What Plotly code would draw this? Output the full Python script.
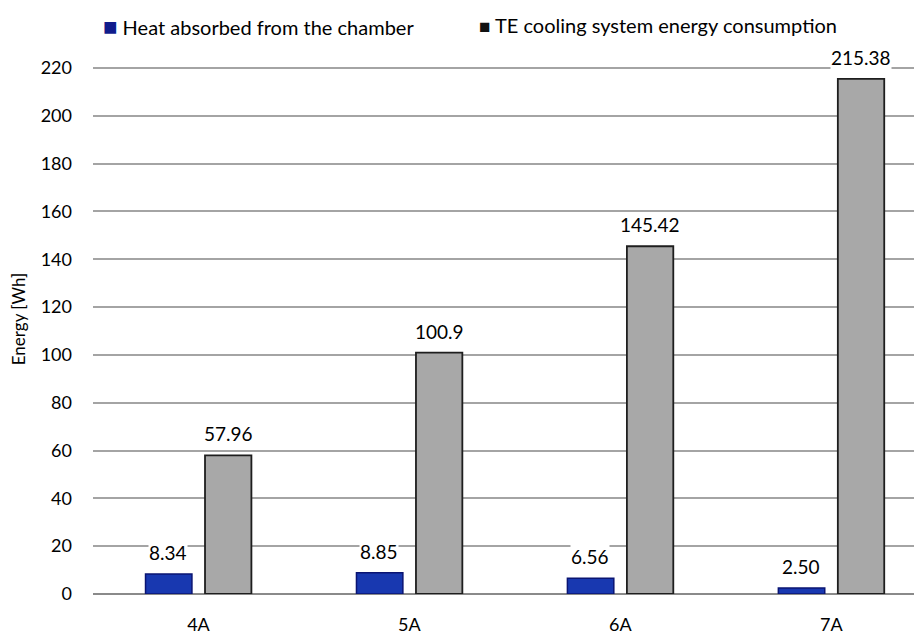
import plotly.graph_objects as go

categories = ["4A", "5A", "6A", "7A"]
heat_absorbed = [8.34, 8.85, 6.56, 2.50]
te_consumption = [57.96, 100.9, 145.42, 215.38]
heat_labels = ["8.34", "8.85", "6.56", "2.50"]
te_labels = ["57.96", "100.9", "145.42", "215.38"]
y_ticks = list(range(0, 221, 20))
series_names = ["Heat absorbed from the chamber", "TE cooling system energy consumption"]
legend_colors = ["#101c8c", "#111111"]

FONT = "Lato, 'Open Sans', sans-serif"

fig = go.Figure()
fig.add_trace(go.Bar(
    x=categories, y=heat_absorbed, name=series_names[0],
    marker=dict(color="#1838b0", line=dict(color="#0a1472", width=1.5)),
    showlegend=False,
))
fig.add_trace(go.Bar(
    x=categories, y=te_consumption, name=series_names[1],
    marker=dict(color="#a8a8a8", line=dict(color="#1e1e1e", width=1.8)),
    showlegend=False,
))

for i, c in enumerate(categories):
    fig.add_annotation(x=c, y=heat_absorbed[i], text=heat_labels[i], xshift=-30,
                       yanchor="bottom", yshift=9, showarrow=False, borderpad=0,
                       font=dict(size=19, color="#000"), bgcolor="white")
    fig.add_annotation(x=c, y=te_consumption[i], text=te_labels[i], xshift=30,
                       yanchor="bottom", yshift=9, showarrow=False, borderpad=0,
                       font=dict(size=19, color="#000"), bgcolor="white")

# legend drawn as text with coloured square glyphs
legend_x = [101, 477]
legend_sq = [24, 19]
for name, col, lx, sq in zip(series_names, legend_colors, legend_x, legend_sq):
    fig.add_annotation(xref="paper", yref="paper", x=(lx - 93) / 829, y=1.0,
                       yshift=19, xanchor="left", yanchor="middle",
                       showarrow=False,
                       text=f"<span style='color:{col};font-size:{sq}px'>■</span> {name}",
                       font=dict(size=20, color="#000"))

fig.update_layout(
    width=914, height=627,
    margin=dict(l=85, r=0, t=36, b=41),
    paper_bgcolor="white", plot_bgcolor="white",
    barmode="group", bargap=0.436, bargroupgap=0.22,
    font=dict(family=FONT, color="#000"),
    showlegend=False,
    xaxis=dict(range=[-0.5, 3.43], showgrid=False, showline=False, ticks="",
               tickfont=dict(size=18), automargin=False, ticklabelstandoff=18),
    yaxis=dict(range=[0, 230], tickvals=y_ticks, showgrid=True, gridcolor="#a4a4a4",
               gridwidth=1.5, zeroline=True, zerolinecolor="#8a8a8a", zerolinewidth=2,
               tickfont=dict(size=18), ticklabelstandoff=20, automargin=False,
               title=dict(text="Energy [Wh]", font=dict(size=17), standoff=10)),
)

fig.write_html("out.html")
